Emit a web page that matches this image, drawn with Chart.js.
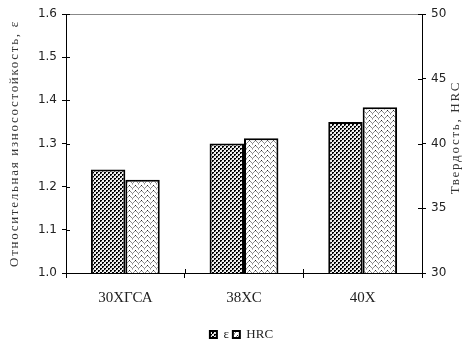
<!DOCTYPE html>
<html>
<head>
<meta charset="utf-8">
<script src="https://cdn.jsdelivr.net/npm/chart.js@4"></script>
<style>
  html, body { margin: 0; padding: 0; background: #fff; }
  #wrap { width: 469px; height: 345px; }
</style>
</head>
<body>
<div id="wrap"><canvas id="mychart" width="469" height="345"></canvas></div>
<script>
// data
let steels = ["30ХГСА", "38ХС", "40Х"];
let wear = [1.24, 1.30, 1.35];
let hrc = [37.2, 40.4, 42.8];
let wearTicks = [1.0, 1.1, 1.2, 1.3, 1.4, 1.5, 1.6];
let hrcTicks = [30, 35, 40, 45, 50];

let leftTitle = "Относительная износостойкость, ε";
let rightTitle = "Твердость, HRC";

//fill patterns like the old excel hatching
function dotPattern() {
  let c = document.createElement("canvas");
  c.width = 4; c.height = 4;
  let g = c.getContext("2d");
  g.fillStyle = "#f0f0f0";
  g.fillRect(0, 0, 4, 4);
  g.fillStyle = "#000";
  g.fillRect(0, 0, 2, 1);
  g.fillRect(0, 1, 1, 1);
  g.fillRect(2, 2, 2, 1);
  g.fillRect(2, 3, 1, 1);
  g.fillStyle = "#999";
  g.fillRect(1, 1, 1, 1);
  g.fillRect(3, 3, 1, 1);
  return g.createPattern(c, "repeat");
}

function zigPattern() {
  let c = document.createElement("canvas");
  c.width = 6; c.height = 5;
  let g = c.getContext("2d");
  g.fillStyle = "#fff";
  g.fillRect(0, 0, 6, 5);
  let ys = [3, 2, 1, 0, 1, 2];
  ys.forEach((y, x) => {
    g.fillStyle = y === 0 ? "#222" : "#8c8c8c";
    g.fillRect(x, y, 1, 1);
  });
  g.fillStyle = "#bdbdbd";
  g.fillRect(0, 4, 1, 1);
  return g.createPattern(c, "repeat");
}

const sansFont = { family: "'DejaVu Sans', sans-serif", size: 12 };
const serifFont = { family: "'Liberation Serif', 'Times New Roman', serif", size: 13 };

//small inner halves of the tick marks (they cross the axis lines)
const innerTicks = {
  id: "innerTicks",
  afterDraw(chart) {
    let ctx = chart.ctx;
    let s = chart.scales;
    ctx.save();
    ctx.strokeStyle = "#000";
    ctx.lineWidth = 1;
    ctx.beginPath();
    s.y.ticks.forEach((t, i) => {
      let py = Math.round(s.y.getPixelForTick(i)) + 0.5;
      ctx.moveTo(s.y.right, py);
      ctx.lineTo(s.y.right + 4, py);
    });
    s.y2.ticks.forEach((t, i) => {
      let py = Math.round(s.y2.getPixelForTick(i)) + 0.5;
      ctx.moveTo(s.y2.left, py);
      ctx.lineTo(s.y2.left - 4, py);
    });
    for (let i = 0; i < steels.length - 1; i++) {
      let px = Math.round((s.x.getPixelForTick(i) + s.x.getPixelForTick(i + 1)) / 2) + 0.5;
      ctx.moveTo(px, s.x.top);
      ctx.lineTo(px, s.x.top - 4);
    }
    ctx.stroke();

    //axis titles, both read bottom to top
    let mid = (chart.chartArea.top + chart.chartArea.bottom) / 2;
    ctx.fillStyle = "#333";
    ctx.font = "13px 'Liberation Serif', serif";
    ctx.letterSpacing = "1.7px";
    ctx.textAlign = "center";
    ctx.textBaseline = "middle";
    ctx.translate(15, mid);
    ctx.rotate(-Math.PI / 2);
    ctx.fillText(leftTitle, 0, 0);
    ctx.rotate(Math.PI / 2);
    ctx.translate(-15, -mid);
    ctx.translate(456, mid - 6);
    ctx.rotate(-Math.PI / 2);
    ctx.fillText(rightTitle, 0, 0);
    ctx.restore();
  },
};

let data = {
  labels: steels,
  datasets: [
    {
      label: "ε",
      data: wear,
      backgroundColor: dotPattern(),
      borderColor: "#000",
      borderWidth: 2,
      yAxisID: "y",
    },
    {
      label: "HRC",
      data: hrc,
      backgroundColor: zigPattern(),
      borderColor: "#000",
      borderWidth: 2,
      yAxisID: "y2",
    },
  ],
};

let options = {
  responsive: false,
  animation: false,
  layout: { padding: { left: 14, right: 0, top: 14, bottom: -6 } },
  datasets: { bar: { categoryPercentage: 0.58, barPercentage: 1.0 } },
  plugins: {
    legend: {
      position: "bottom",
      labels: {
        boxWidth: 7,
        boxHeight: 7,
        padding: 4,
        font: serifFont,
        color: "#222",
      },
    },
    tooltip: { enabled: false },
  },
  scales: {
    x: {
      grid: { display: true, drawOnChartArea: false, offset: true, tickLength: 5, tickColor: "#000" },
      border: { color: "#000" },
      ticks: { font: { family: "'Liberation Serif', serif", size: 15 }, color: "#222", padding: 11 },
      afterFit: (scale) => { scale.height = 51; },
    },
    y: {
      position: "left",
      min: 1.0,
      max: 1.6,
      afterBuildTicks: (scale) => { scale.ticks = wearTicks.map((v) => ({ value: v })); },
      ticks: { callback: (v) => Number(v).toFixed(1), font: sansFont, color: "#222", padding: 5 },
      grid: {
        drawOnChartArea: true,
        color: (c) => (c.tick && c.tick.value === 1.6 ? "#888" : "rgba(0,0,0,0)"),
        tickColor: "#000",
        tickLength: 4,
      },
      border: { color: "#000" },
      afterFit: (scale) => { scale.width = 52; },
    },
    y2: {
      position: "right",
      min: 30,
      max: 50,
      afterBuildTicks: (scale) => { scale.ticks = hrcTicks.map((v) => ({ value: v })); },
      ticks: { font: sansFont, color: "#222", padding: 5 },
      grid: { drawOnChartArea: false, tickColor: "#000", tickLength: 4 },
      border: { color: "#000" },
      afterFit: (scale) => { scale.width = 47; },
    },
  },
};

const config = {
  type: "bar",
  data: data,
  options: options,
  plugins: [innerTicks],
};
let wearChart = new Chart(document.getElementById("mychart"), config);
</script>
</body>
</html>
